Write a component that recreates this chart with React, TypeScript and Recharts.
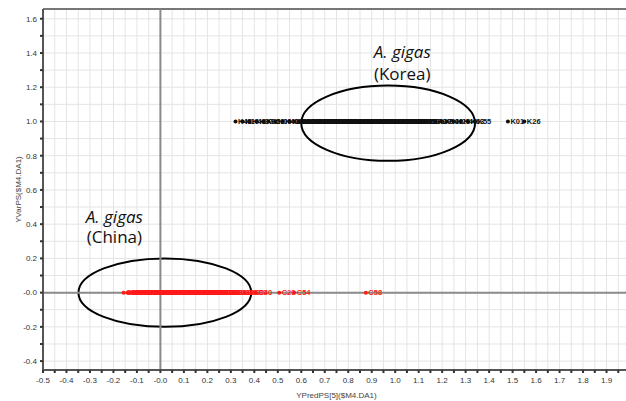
import React from 'react';
import {
  ScatterChart,
  Scatter,
  XAxis,
  YAxis,
  CartesianGrid,
  ReferenceLine,
  ReferenceArea,
  ReferenceDot,
} from 'recharts';

// ---------- data ----------
const koreaYValue = 1.0;
const koreaX = [
  0.32, 0.35, 0.38, 0.41, 0.44, 0.46, 0.49, 0.52, 0.55, 0.57, 0.59, 0.605, 0.61, 0.62, 0.63, 0.64, 0.65, 0.66,
  0.67, 0.68, 0.69, 0.7, 0.71, 0.72, 0.73, 0.74, 0.75, 0.76, 0.77, 0.78, 0.79, 0.8, 0.81, 0.82, 0.83, 0.84,
  0.85, 0.86, 0.87, 0.88, 0.89, 0.9, 0.91, 0.92, 0.93, 0.94, 0.95, 0.96, 0.97, 0.98, 0.99, 1.0, 1.01, 1.02,
  1.03, 1.04, 1.05, 1.06, 1.07, 1.08, 1.09, 1.1, 1.11, 1.12, 1.13, 1.15, 1.17, 1.2, 1.22, 1.25, 1.28, 1.31,
  1.34, 1.48, 1.55,
];
const koreaLabels = [
  'K43', 'K14', 'K48', 'K37', 'K22', 'K52', 'K09', 'K41', 'K33', 'K18', 'K27', 'K64', 'K05', 'K60', 'K65', 'K12', 'K39', 'K21',
  'K66', 'K56', 'K03', 'K30', 'K67', 'K47', 'K15', 'K62', 'K08', 'K68', 'K35', 'K50', 'K24', 'K11', 'K69', 'K58', 'K31', 'K19',
  'K44', 'K06', 'K70', 'K53', 'K28', 'K16', 'K40', 'K71', 'K61', 'K02', 'K34', 'K49', 'K23', 'K72', 'K10', 'K57', 'K38', 'K13',
  'K73', 'K45', 'K29', 'K04', 'K74', 'K51', 'K20', 'K36', 'K75', 'K59', 'K07', 'K42', 'K17', 'K54', 'K32', 'K25', 'K46', 'K63',
  'K55', 'K01', 'K26',
];

const chinaYValue = 0.0;
const chinaX = [
  -0.157, -0.14, -0.13, -0.12, -0.11, -0.1, -0.09, -0.08, -0.07, -0.06, -0.05, -0.04, -0.03, -0.02, -0.01, 0.0,
  0.01, 0.02, 0.03, 0.04, 0.05, 0.06, 0.07, 0.08, 0.09, 0.1, 0.11, 0.12, 0.13, 0.14, 0.15, 0.16, 0.17, 0.18,
  0.19, 0.2, 0.21, 0.22, 0.23, 0.24, 0.25, 0.26, 0.27, 0.28, 0.3, 0.31, 0.33, 0.36, 0.386, 0.407, 0.506, 0.57,
  0.875,
];
const chinaLabels = [
  'C12', 'C03', 'C60', 'C47', 'C61', 'C21', 'C08', 'C62', 'C35', 'C63', 'C16', 'C50', 'C64', 'C02', 'C27', 'C44',
  'C11', 'C65', 'C33', 'C06', 'C19', 'C66', 'C52', 'C24', 'C38', 'C01', 'C67', 'C45', 'C14', 'C30', 'C68', 'C09',
  'C41', 'C22', 'C69', 'C05', 'C48', 'C17', 'C70', 'C36', 'C26', 'C71', 'C53', 'C10', 'C31', 'C43', 'C18', 'C07',
  'C39', 'C40', 'C29', 'C54', 'C58',
];

// ellipses (data coords)
const ellipseGroups = ['Korea', 'China'];
const ellipseCx = [0.97, 0.019];
const ellipseCy = [0.99, 0.0];
const ellipseRx = [0.37, 0.368];
const ellipseRy = [0.22, 0.2];

// annotations (data coords)
const annotationLine1 = ['A. gigas', 'A. gigas'];
const annotationLine2 = ['(Korea)', '(China)'];
const annotationX = [1.03, -0.196];
const annotationY1 = [1.372, 0.409];
const annotationY2 = [1.244, 0.29];

// axes
const xDomain = [-0.5, 2.0];
const xMajorTicks = [-0.5, -0.4, -0.3, -0.2, -0.1, 0.0, 0.1, 0.2, 0.3, 0.4, 0.5, 0.6, 0.7, 0.8, 0.9, 1.0, 1.1, 1.2, 1.3, 1.4, 1.5, 1.6, 1.7, 1.8, 1.9];
const xMajorLabels = ['-0.5', '-0.4', '-0.3', '-0.2', '-0.1', '-0.0', '0.1', '0.2', '0.3', '0.4', '0.5', '0.6', '0.7', '0.8', '0.9', '1.0', '1.1', '1.2', '1.3', '1.4', '1.5', '1.6', '1.7', '1.8', '1.9'];
const xMinorTicks = [-0.45, -0.35, -0.25, -0.15, -0.05, 0.05, 0.15, 0.25, 0.35, 0.45, 0.55, 0.65, 0.75, 0.85, 0.95, 1.05, 1.15, 1.25, 1.35, 1.45, 1.55, 1.65, 1.75, 1.85, 1.95];

const yDomain = [-0.452, 1.657];
const yMajorTicks = [-0.4, -0.2, 0.0, 0.2, 0.4, 0.6, 0.8, 1.0, 1.2, 1.4, 1.6];
const yMajorLabels = ['-0.4', '-0.2', '-0.0', '0.2', '0.4', '0.6', '0.8', '1.0', '1.2', '1.4', '1.6'];
const yMinorTicks = [-0.3, -0.1, 0.1, 0.3, 0.5, 0.7, 0.9, 1.1, 1.3, 1.5];

const xTitle = 'YPredPS[5]($M4.DA1)';
const yTitle = 'YVarPS($M4.DA1)';

// ---------- derived ----------
const koreaData = koreaX.map((x, i) => ({ x, y: koreaYValue, name: koreaLabels[i] }));
const chinaData = chinaX.map((x, i) => ({ x, y: chinaYValue, name: chinaLabels[i] }));
const xTicks = [...xMajorTicks, ...xMinorTicks].sort((a, b) => a - b);
const yTicks = [...yMajorTicks, ...yMinorTicks].sort((a, b) => a - b);
const fmtX = (v: number) => {
  const i = xMajorTicks.indexOf(v);
  return i >= 0 ? xMajorLabels[i] : '';
};
const fmtY = (v: number) => {
  const i = yMajorTicks.indexOf(v);
  return i >= 0 ? yMajorLabels[i] : '';
};

const FONT = '"Liberation Sans", Arial, sans-serif';

const makePointShape = (color: string) => (props: any) => {
  const { cx, cy, payload } = props;
  if (cx == null || cy == null) return <g />;
  return (
    <g>
      <circle cx={cx} cy={cy} r={2} fill={color} />
      <text
        x={cx + 2.5}
        y={cy}
        dy="0.35em"
        fontSize={7.5}
        fontWeight="bold"
        fill={color}
        fontFamily={FONT}
      >
        {payload.name}
      </text>
    </g>
  );
};
const KoreaShape = makePointShape('#111111');
const ChinaShape = makePointShape('#ff1a1a');

const EllipseShape = (props: any) => {
  const { x, y, width, height } = props;
  if (x == null) return <g />;
  return (
    <ellipse
      cx={x + width / 2}
      cy={y + height / 2}
      rx={Math.abs(width) / 2}
      ry={Math.abs(height) / 2}
      fill="none"
      stroke="#000"
      strokeWidth={2}
    />
  );
};

const makeTextShape = (txt: string, italic: boolean) => (props: any) => {
  const { cx, cy } = props;
  if (cx == null) return <g />;
  return (
    <text
      x={cx}
      y={cy}
      textAnchor="middle"
      fontSize={17}
      fontStyle={italic ? 'italic' : 'normal'}
      fill="#111"
      fontFamily='"Open Sans", "Noto Sans", sans-serif'
    >
      {txt}
    </text>
  );
};

const YTitle = (props: any) => {
  const vb = props.viewBox || { x: 0, y: 9, width: 43, height: 361 };
  const cx = vb.x + 18;
  const cy = vb.y + vb.height / 2;
  return (
    <text
      x={cx}
      y={cy}
      transform={`rotate(-90 ${cx} ${cy})`}
      textAnchor="middle"
      dominantBaseline="central"
      fontSize={8}
      fill="#444"
      fontFamily={FONT}
    >
      {yTitle}
    </text>
  );
};

const XTitle = (props: any) => {
  const vb = props.viewBox || { x: 43, y: 370, width: 587, height: 31 };
  const cx = vb.x + vb.width / 2;
  const cy = vb.y + 25;
  return (
    <text x={cx} y={cy} textAnchor="middle" dominantBaseline="central" fontSize={8} fill="#444" fontFamily={FONT}>
      {xTitle}
    </text>
  );
};

export default function App() {
  return (
    <div
      style={{
        position: 'absolute',
        left: 0,
        top: 0,
        width: 626,
        height: 401,
        overflow: 'hidden',
        background: '#fff',
      }}
    >
      <ScatterChart width={664} height={401} margin={{ top: 9, right: 34, left: 0, bottom: 0 }}>
        <CartesianGrid stroke="#e4e4e4" strokeWidth={1} />
        <XAxis
          type="number"
          dataKey="x"
          domain={xDomain}
          ticks={xTicks}
          interval={0}
          allowDataOverflow
          tickFormatter={fmtX}
          height={31}
          tickSize={3}
          tickMargin={4}
          axisLine={{ stroke: '#555', strokeWidth: 2 }}
          tickLine={{ stroke: '#333', strokeWidth: 2 }}
          tick={{ fontSize: 8, fill: '#333', fontFamily: FONT }}
          label={<XTitle />}
        />
        <YAxis
          type="number"
          dataKey="y"
          domain={yDomain}
          ticks={yTicks}
          interval={0}
          allowDataOverflow
          tickFormatter={fmtY}
          width={43}
          tickSize={3}
          tickMargin={3}
          axisLine={{ stroke: '#555', strokeWidth: 2 }}
          tickLine={{ stroke: '#333', strokeWidth: 2 }}
          tick={{ fontSize: 8, fill: '#333', fontFamily: FONT }}
          label={<YTitle />}
        />
        <ReferenceLine y={yDomain[1]} stroke="#777" strokeWidth={2} />
        <ReferenceLine x={0} stroke="#8a8a8a" strokeWidth={2} />
        <ReferenceLine y={0} stroke="#8a8a8a" strokeWidth={2} />
        <Scatter name="Korea" data={koreaData} shape={KoreaShape} isAnimationActive={false} />
        <Scatter name="China" data={chinaData} shape={ChinaShape} isAnimationActive={false} />
        {ellipseGroups.map((g, i) => (
          <ReferenceArea
            key={g}
            x1={ellipseCx[i] - ellipseRx[i]}
            x2={ellipseCx[i] + ellipseRx[i]}
            y1={ellipseCy[i] - ellipseRy[i]}
            y2={ellipseCy[i] + ellipseRy[i]}
            shape={EllipseShape}
            ifOverflow="visible"
          />
        ))}
        {ellipseGroups.map((g, i) => (
          <ReferenceDot
            key={g + '-l1'}
            x={annotationX[i]}
            y={annotationY1[i]}
            r={0}
            shape={makeTextShape(annotationLine1[i], true)}
            ifOverflow="visible"
          />
        ))}
        {ellipseGroups.map((g, i) => (
          <ReferenceDot
            key={g + '-l2'}
            x={annotationX[i]}
            y={annotationY2[i]}
            r={0}
            shape={makeTextShape(annotationLine2[i], false)}
            ifOverflow="visible"
          />
        ))}
      </ScatterChart>
    </div>
  );
}
